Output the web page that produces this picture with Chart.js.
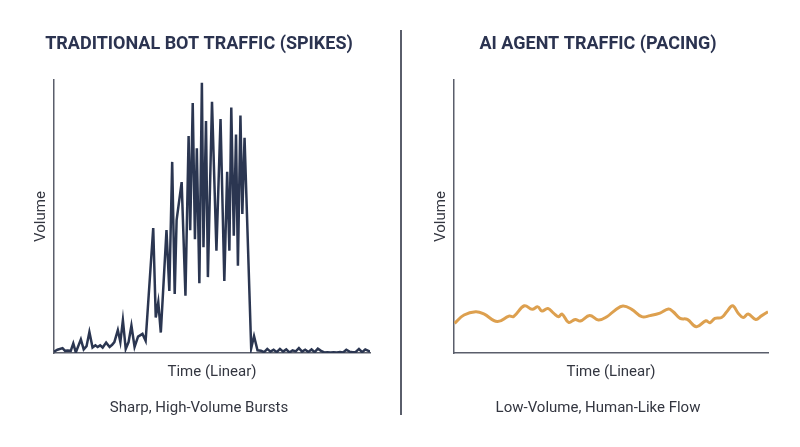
<!DOCTYPE html>
<html>
<head>
<meta charset="utf-8">
<script src="https://cdn.jsdelivr.net/npm/chart.js@4/dist/chart.umd.min.js"></script>
<style>
  html, body { margin: 0; padding: 0; background: #fff; }
  #wrap { position: relative; width: 800px; height: 447px; }
  .panel { position: absolute; top: 0; width: 400px; height: 447px; }
  #divider { position: absolute; left: 400px; top: 30px; width: 1.5px; height: 385px; background: #5a5e6b; }
</style>
</head>
<body>
<div id="wrap">
  <div class="panel" style="left:0"><canvas id="botChart"></canvas></div>
  <div class="panel" style="left:400px"><canvas id="agentChart"></canvas></div>
  <div id="divider"></div>
</div>
<script>
// Traditional bot traffic: time position (0-100) and volume (0-100)
var botTime = [0, 1.1, 2.7, 3.5, 4.3, 5.3, 6.1, 6.9, 8.5, 9.4, 10.3, 11.2, 12.2, 13.1, 13.8, 14.6,
  15.4, 16.5, 17.6, 18.4, 19.1, 20.2, 21.0, 21.8, 22.7, 23.6, 24.5, 25.5, 26.6, 28.0, 29.0,
  31.4, 32.2, 33.0, 33.8, 35.6, 36.5, 37.4, 38.2, 38.8, 40.4, 41.6, 42.6, 43.1, 43.9, 44.6,
  45.2, 46.0, 46.8, 47.3, 48.1, 48.7, 50.0, 51.4, 52.7, 53.9, 54.8, 55.5, 56.1, 56.9, 57.6,
  58.2, 59.0, 59.6, 60.3, 62.4, 63.3, 64.4, 65.5, 66.5, 67.5, 68.5, 69.5, 70.5, 71.5, 72.5,
  73.5, 74.5, 75.5, 76.5, 77.5, 78.5, 79.5, 80.5, 81.5, 82.5, 83.5, 84.5, 85.5, 86.5, 87.5,
  88.5, 89.5, 90.5, 91.5, 92.5, 93.5, 94.5, 95.5, 96.5, 97.5, 98.5, 100];
var botVolume = [0.5, 1.2, 1.8, 0.8, 0.9, 0.8, 3.5, 0.2, 5, 1.3, 2.5, 7.7, 2, 2.8, 2.2, 2.8,
  2, 3.8, 2.2, 3, 4, 8.4, 4, 12, 1.5, 4, 10, 2.2, 6, 7, 4.5,
  45.8, 13, 18.6, 7.5, 45, 22.7, 70, 21.6, 48.7, 62.6, 21, 79.5, 45, 91.6, 41.7,
  75, 25.6, 99, 38.7, 85, 27.8, 92, 37.5, 85.7, 26.4, 66.4, 37.5, 89.9, 43, 80,
  32, 87, 50.9, 78.8, 1.7, 6.2, 1, 0.8, 0.3, 1.5, 0.5, 1.2, 0.3, 1.5, 0.5,
  1.3, 0.2, 1.0, 0.6, 1.8, 0.5, 1.2, 0.4, 1.3, 0.3, 1.6, 0.8, 0.2, 0.3, 0.2,
  0.3, 0.2, 0.4, 0.2, 1.2, 0.5, 0.3, 0.4, 1.5, 0.3, 1.3, 0.5];

// AI agent traffic: time position (0-100) and volume (0-100)
var agentTime = [0.2, 3.2, 6.9, 9.5, 13.8, 17.5, 19.0, 22.4, 24.9, 26.7, 28.0, 29.9, 31.7, 33.3,
  34.4, 36.5, 38.6, 40.2, 43.2, 46.0, 48.7, 51.3, 53.8, 56.6, 59.8, 62.4, 65.6, 68.3, 69.8,
  72.0, 74.3, 77.2, 80.2, 81.5, 83.1, 85.2, 86.8, 88.7, 90.5, 92.1, 93.7, 96.1, 97.9, 100];
var agentVolume = [10.9, 13.9, 15.1, 14.3, 11.5, 13.5, 13.4, 17.3, 16.0, 16.9, 15.4, 16.3, 14.6, 13.3,
  14.3, 11.2, 12.3, 11.7, 13.7, 12.1, 13.3, 15.7, 17.2, 16.0, 13.3, 13.7, 14.6, 16.1, 15.1,
  12.7, 12.3, 9.6, 11.8, 11.1, 12.7, 13.0, 15.0, 17.3, 14.6, 13.0, 14.3, 12.3, 13.6, 15.1];

var colors = {
  bot: '#2b3651',
  agent: '#dda04f',
  title: '#2b3350',
  text: '#333640',
  axis: '#5a5e6b'
};
var fontFamily = "Roboto, 'Noto Sans', sans-serif";

function toPoints(xs, ys) {
  return xs.map(function(x, i) { return { x: x, y: ys[i] }; });
}

function makeChart(id, title, caption, xs, ys, color, lineWidth, tension, padLeft, padRight) {
  return new Chart(document.getElementById(id), {
    type: 'line',
    data: {
      datasets: [{
        data: toPoints(xs, ys),
        borderColor: color,
        borderWidth: lineWidth,
        pointRadius: 0,
        tension: tension,
        fill: false
      }]
    },
    options: {
      responsive: false,
      animation: false,
      layout: { padding: { left: padLeft, right: padRight, top: 0, bottom: 0 } },
      plugins: {
        legend: { display: false },
        tooltip: { enabled: false },
        title: {
          display: true,
          text: title,
          color: colors.title,
          font: { family: fontFamily, size: 18, weight: '700' },
          padding: { top: 34, bottom: 24.4 }
        },
        subtitle: {
          display: true,
          position: 'bottom',
          text: caption,
          color: colors.text,
          font: { family: fontFamily, size: 15, weight: '400' },
          padding: { top: 14, bottom: 30 }
        }
      },
      scales: {
        x: {
          type: 'linear',
          min: 0,
          max: 100,
          grid: { display: false, drawTicks: false },
          border: { display: true, color: colors.axis, width: 1.5 },
          ticks: { display: false },
          title: {
            display: true,
            text: 'Time (Linear)',
            color: colors.text,
            font: { family: fontFamily, size: 15 },
            padding: { top: 10, bottom: 4 }
          }
        },
        y: {
          min: 0,
          max: 100,
          grid: { display: false, drawTicks: false },
          border: { display: true, color: colors.axis, width: 1.5 },
          ticks: { display: false },
          title: {
            display: true,
            text: 'Volume',
            color: colors.text,
            font: { family: fontFamily, size: 15 },
            padding: { top: 4, bottom: 4 }
          }
        }
      }
    }
  });
}

var c1 = document.getElementById('botChart');
c1.width = 400; c1.height = 447;
var c2 = document.getElementById('agentChart');
c2.width = 400; c2.height = 447;

makeChart('botChart', 'TRADITIONAL BOT TRAFFIC (SPIKES)', 'Sharp, High-Volume Bursts',
  botTime, botVolume, colors.bot, 2.5, 0, 28, 30);
makeChart('agentChart', 'AI AGENT TRAFFIC (PACING)', 'Low-Volume, Human-Like Flow',
  agentTime, agentVolume, colors.agent, 3, 0.4, 28, 32);
</script>
</body>
</html>
